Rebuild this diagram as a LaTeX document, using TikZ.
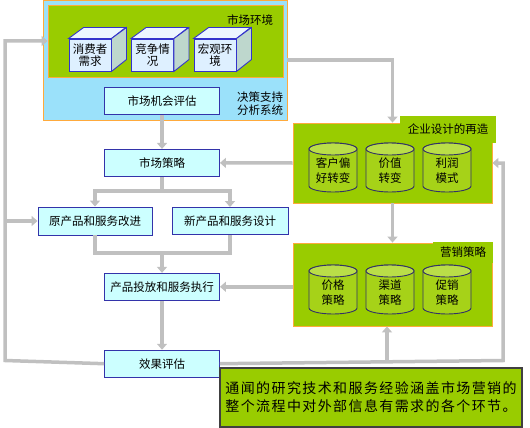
\documentclass[tikz,border=0pt]{standalone}
\usepackage{fontspec}
\setmainfont{Noto Sans CJK SC}
\newfontfamily\notefont{Noto Sans CJK SC}[LetterSpace=10]
\usepackage{tikz}
\usetikzlibrary{arrows.meta, positioning, calc}

\definecolor{skyfill}{RGB}{155,225,250}
\definecolor{lime}{RGB}{153,204,0}
\definecolor{edgeorange}{RGB}{255,170,60}
\definecolor{flowfill}{RGB}{204,255,255}
\definecolor{flowline}{RGB}{51,51,170}
\definecolor{arrgray}{RGB}{192,192,192}
\definecolor{cubefront}{RGB}{222,240,255}
\definecolor{cubetop}{RGB}{236,246,255}
\definecolor{cubeside}{RGB}{190,215,205}
\definecolor{cubeline}{RGB}{51,51,204}
\definecolor{drumfill}{RGB}{166,210,24}
\definecolor{drumtop}{RGB}{186,222,72}
\definecolor{drumline}{RGB}{51,51,102}

\begin{document}
\begin{tikzpicture}[
  x=1pt, y=1pt,
  font=\fontsize{11.5}{13}\selectfont,
  dssbox/.style={
    rectangle, inner sep=0pt,
    draw=edgeorange, fill=skyfill, line width=0.8pt
  },
  panel/.style={
    rectangle, inner sep=0pt,
    draw=edgeorange, fill=lime, line width=0.8pt
  },
  tab/.style={rectangle, inner sep=0pt, fill=lime},
  flowbox/.style={
    rectangle, draw=flowline, fill=flowfill, line width=0.9pt,
    minimum width=115pt, minimum height=27pt, inner sep=0pt
  },
  cubebox/.style={
    rectangle, draw=cubeline, fill=cubefront, line width=0.9pt,
    minimum width=42pt, minimum height=32pt, inner sep=0pt, align=center,
    font=\fontsize{11.5}{12.5}\selectfont
  },
  drumtext/.style={align=center, inner sep=0pt, font=\fontsize{11.5}{14.5}\selectfont},
  notebox/.style={
    rectangle, draw=black!75, fill=lime, line width=1.5pt,
    minimum width=302pt, minimum height=59pt, inner sep=0pt, align=left,
    font=\notefont\fontsize{14}{18}\selectfont
  },
  arr/.style={-{Triangle[length=6pt,width=10pt]}, line width=3.5pt, draw=arrgray},
  feed/.style={line width=3.5pt, draw=arrgray}
]
\useasboundingbox (0,0) rectangle (530,-428);

%% Decision support system (top left)
\node[dssbox, minimum width=244pt, minimum height=120pt] (dss) at (165,-60) {};
\node[panel, minimum width=235pt, minimum height=72pt] (env) at (165.5,-41) {};
\node (envlabel) at (250,-20) {市场环境};
\node[align=left, inner sep=0pt] (dsslabel) at (260,-103.5) {决策支持\\分析系统};

%% Cubes
\foreach \nm/\cx/\txt in {need/90/{消费者\\需求}, rival/152.5/{竞争情\\况}, macro/215/{宏观环\\境}}{
  \node[cubebox] (\nm) at (\cx,-55) {};
  \filldraw[fill=cubetop, draw=cubeline, line width=0.9pt]
    (\nm.north west) -- ++(15,11) -- ++(42,0) -- (\nm.north east) -- cycle;
  \filldraw[fill=cubeside, draw=cubeline, line width=0.9pt]
    (\nm.north east) -- ++(15,11) -- ++(0,-32) -- (\nm.south east) -- cycle;
  \node[cubebox, fill=none, draw=none] at (\nm) {\txt};
}

%% Flow column
\node[flowbox] (assess) at (162,-101) {市场机会评估};
\node[flowbox, below=34pt of assess] (strategy) {市场策略};
\node[flowbox, minimum width=114pt, minimum height=28pt] (oldprod) at (95,-221) {原产品和服务改进};
\node[flowbox, minimum width=116pt] (newprod) at (230,-221) {新产品和服务设计};
\node[flowbox, below=96pt of strategy] (launch) {产品投放和服务执行};
\node[flowbox, below=49pt of launch] (eval) {效果评估};

%% Right panels
\node[panel, minimum width=199pt, minimum height=80pt] (reeng) at (392.5,-163) {};
\node[tab, minimum width=96pt, minimum height=27pt] (reengtab) at (448,-129.5) {企业设计的再造};
\node[panel, minimum width=199pt, minimum height=83pt] (mkt) at (392.5,-284.5) {};
\node[tab, minimum width=60pt, minimum height=21pt] (mkttab) at (463,-252.5) {营销策略};

%% Drums
\foreach \nm/\cx/\cy/\txt in {pref/333/-167.5/{客户偏\\好转变}, value/390/-167.5/{价值\\转变},
    profit/447/-167.5/{利润\\模式}, price/333/-289.5/{价格\\策略},
    channel/390/-289.5/{渠道\\策略}, promo/447/-289.5/{促销\\策略}}{
  \filldraw[fill=drumfill, draw=drumline, line width=0.9pt]
    (\cx-24,\cy+18.5) -- (\cx-24,\cy-18.5)
    arc[start angle=180, end angle=360, x radius=24pt, y radius=6pt]
    -- (\cx+24,\cy+18.5)
    arc[start angle=0, end angle=180, x radius=24pt, y radius=6pt] -- cycle;
  \filldraw[fill=drumtop, draw=drumline, line width=0.9pt]
    (\cx,\cy+18.5) ellipse[x radius=24pt, y radius=6pt];
  \node[drumtext] (\nm) at (\cx,\cy-3) {\txt};
}

%% Note
\node[notebox] (note) at (371,-397.5) {通闻的研究技术和服务经验涵盖市场营销的\\整个流程中对外部信息有需求的各个环节。};

%% Connectors
\coordinate (split) at (162,-191);
\coordinate (merge) at (162,-253);
\coordinate (lb) at (5,-360.5);
\coordinate (lj) at (5,-221);
\coordinate (rb) at (503,-360.5);
\coordinate (mj) at (387,-360.5);

\draw[arr] (dss.east) -| (reeng.north);
\draw[arr] (assess) -- (strategy);
\draw[arr] (reeng.west) -- (strategy.east);
\draw[feed] (strategy.south) -- (split);
\draw[arr] (split) -| (oldprod.north);
\draw[arr] (split) -| (newprod.north);
\draw[feed] (newprod.south) |- (merge);
\draw[arr] (oldprod.south) |- (merge) -- (launch.north);
\draw[arr] (reeng) -- (mkt);
\draw[arr] (mkt.west |- launch) -- (launch.east);
\draw[arr] (launch) -- (eval);
\draw[arr] (eval.west) -- (lb) |- (env.west);
\draw[arr] (lj) -- (oldprod.west);
\draw[arr] (eval.east) -- (rb) |- (reeng.east);
\draw[arr] (mj) -- (mj |- mkt.south);

\end{tikzpicture}
\end{document}
